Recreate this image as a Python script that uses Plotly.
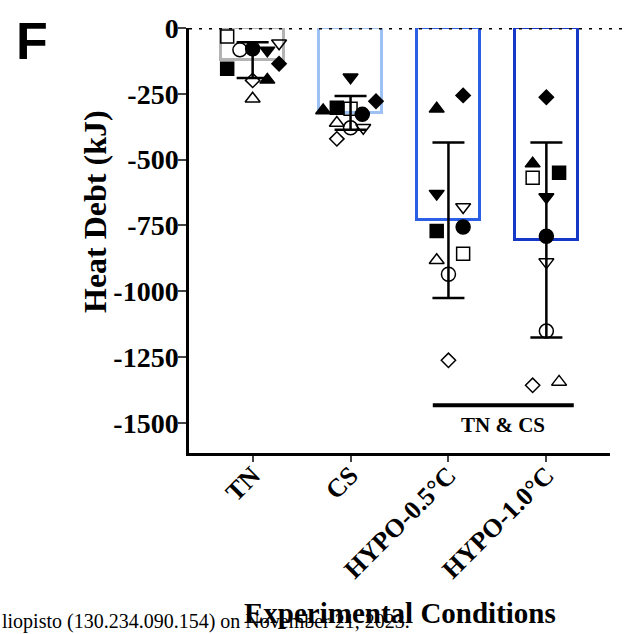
import plotly.graph_objects as go

# ---------------- data ----------------
categories = ["TN", "CS", "HYPO-0.5°C", "HYPO-1.0°C"]
bar_means = [-122, -322, -730, -805]
bar_sd = [68, 64, 295, 370]
bar_colors = ["#b3b3b3", "#9cc1f2", "#2a5fe6", "#1638c6"]

# subjects (marker symbols)
subject_symbols = ["square", "square-open", "circle", "circle-open",
                   "triangle-up", "triangle-up-open", "triangle-down",
                   "triangle-down-open", "diamond", "diamond-open"]

# individual values per condition (order follows subject_symbols)
tn_values = [-155, -32, -79, -83, -197, -269, -85, -58, -136, -199]
cs_values = [-303, -307, -328, -379, -313, -361, -187, -379, -278, -421]
hypo05_values = [-771, -857, -756, -935, -307, -882, -629, -680, -256, -1262]
hypo10_values = [-550, -569, -791, -1151, -515, -1344, -642, -889, -263, -1357]

# horizontal scatter offsets (category units)
tn_jitter = [-0.26, -0.26, 0.0, -0.13, 0.15, 0.0, 0.15, 0.27, 0.27, 0.0]
cs_jitter = [-0.14, 0.0, 0.12, 0.0, -0.28, -0.14, 0.0, 0.13, 0.26, -0.14]
hypo05_jitter = [-0.12, 0.15, 0.15, 0.0, -0.12, -0.12, -0.12, 0.15, 0.15, 0.0]
hypo10_jitter = [0.13, -0.14, 0.0, 0.0, -0.14, 0.13, 0.0, 0.0, 0.0, -0.14]

y_ticks = [0, -250, -500, -750, -1000, -1250, -1500]
sig_label = "TN & CS"
sig_span = [2 - 0.16, 3 + 0.28]
sig_level = -1433

all_values = [tn_values, cs_values, hypo05_values, hypo10_values]
all_jitter = [tn_jitter, cs_jitter, hypo05_jitter, hypo10_jitter]

# marker style per symbol
symbol_size = {"square": 13, "circle": 14, "triangle-up": 13,
               "triangle-down": 13, "diamond": 11}

# ---------------- layout geometry ----------------
W, H = 629, 634
L, R, T, B = 189, 19, 28, 181
PW, PH = W - L - R, H - T - B

def px_x(px):
    return (px - L) / PW

def px_y(py):
    return (H - B - py) / PH

SERIF = "Liberation Serif"

fig = go.Figure()

# bars (hollow, coloured outline)
for i, cat in enumerate(categories):
    fig.add_trace(go.Bar(
        x=[i], y=[bar_means[i]], width=0.645,
        marker=dict(color="rgba(0,0,0,0)", line=dict(color=bar_colors[i], width=3)),
        showlegend=False, hoverinfo="skip"))

# error bars
fig.add_trace(go.Scatter(
    x=list(range(len(categories))), y=bar_means, mode="markers",
    marker=dict(size=1, color="rgba(0,0,0,0)"),
    error_y=dict(type="data", array=bar_sd, color="black", thickness=2.5, width=16),
    showlegend=False, hoverinfo="skip"))

# individual points
for s, sym in enumerate(subject_symbols):
    xs = [ci + all_jitter[ci][s] for ci in range(len(categories))]
    ys = [all_values[ci][s] for ci in range(len(categories))]
    fig.add_trace(go.Scatter(
        x=xs, y=ys, mode="markers",
        marker=dict(symbol=sym, size=symbol_size[sym.replace("-open", "")],
                    color="black", line=dict(color="black", width=1.5)),
        showlegend=False, cliponaxis=False))

# significance bar
fig.add_trace(go.Scatter(
    x=sig_span, y=[sig_level, sig_level], mode="lines",
    line=dict(color="black", width=4), showlegend=False, hoverinfo="skip"))
fig.add_annotation(x=sum(sig_span) / 2, y=sig_level, yshift=-20,
                   text=f"<b>{sig_label}</b>",
                   showarrow=False, font=dict(family=SERIF, size=21, color="black"),
                   xref="x", yref="y", yanchor="middle")

# dotted zero line extending past the axis
fig.add_shape(type="line", xref="paper", yref="y", x0=0, x1=px_x(629), y0=0, y1=0,
              line=dict(color="black", width=3, dash="3px,7px"))

fig.update_layout(
    width=W, height=H,
    margin=dict(l=L, r=R, t=T, b=B),
    paper_bgcolor="white", plot_bgcolor="white",
    bargap=0,
    font=dict(family=SERIF, color="black"),
    xaxis=dict(range=[-0.65, 3.65], tickvals=list(range(len(categories))),
               ticktext=[f"<b>{c}</b>" for c in categories],
               tickangle=-45, ticks="outside", ticklen=6, tickwidth=2,
               ticklabelstandoff=-12,
               showline=True, linecolor="black", linewidth=2.5,
               showgrid=False, zeroline=False,
               tickfont=dict(family=SERIF, size=26, color="black")),
    yaxis=dict(range=[-1614, 0], tickvals=y_ticks,
               ticktext=[f"<b>{v}</b>" for v in y_ticks],
               ticks="outside", ticklen=8, tickwidth=2,
               ticklabelstandoff=-6,
               showline=True, linecolor="black", linewidth=2.5,
               showgrid=False, zeroline=False,
               tickfont=dict(family=SERIF, size=28, color="black")),
)

# axis titles and labels
fig.add_annotation(x=px_x(95), y=px_y(212), xref="paper", yref="paper",
                   xanchor="center", yanchor="middle",
                   text="<b>Heat Debt (kJ)</b>", textangle=-90, showarrow=False,
                   font=dict(family=SERIF, size=32, color="black"))
fig.add_annotation(x=px_x(400), y=px_y(613), xref="paper", yref="paper",
                   xanchor="center", yanchor="middle",
                   text="<b>Experimental Conditions</b>", showarrow=False,
                   font=dict(family=SERIF, size=29, color="black"))
fig.add_annotation(x=px_x(0), y=px_y(621), xref="paper", yref="paper",
                   xanchor="left", yanchor="middle",
                   text="liopisto (130.234.090.154) on November 21, 2023.",
                   showarrow=False, font=dict(family=SERIF, size=20, color="black"))
fig.add_annotation(x=px_x(14), y=px_y(41), xref="paper", yref="paper",
                   xanchor="left", yanchor="middle",
                   text="<b>F</b>", showarrow=False,
                   font=dict(family="Liberation Sans", size=52, color="black"))

fig.write_html("out.html")
